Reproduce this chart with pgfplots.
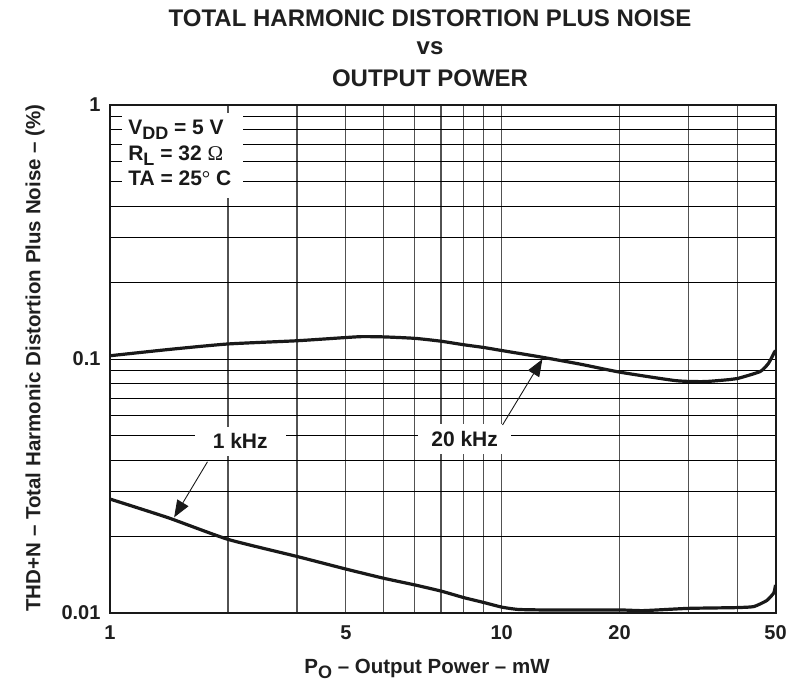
\documentclass[border=0pt]{standalone}
\usepackage{fontspec}
\setmainfont{Liberation Sans}
\newfontfamily\serifsym{Liberation Serif}
\usepackage{pgfplots}
\pgfplotsset{compat=1.18}
\usetikzlibrary{arrows.meta}
\newcommand{\sub}[1]{\raisebox{-5pt}{\fontsize{18}{18}\selectfont #1}}
\begin{document}
\begin{tikzpicture}[x=1pt,y=1pt]
\useasboundingbox (0,0) rectangle (791,683);
\begin{axis}[
  at={(110pt,70pt)}, anchor=south west,
  scale only axis, width=665.5pt, height=508pt,
  xmode=log, ymode=log,
  xmin=1, xmax=50, ymin=0.01, ymax=1,
  xtick={1,4,10,20,50}, xticklabels={1,5,10,20,50},
  ytick={0.01,0.1,1}, yticklabels={0.01,0.1,1},
  minor xtick={2,3,5,6,7,8,9,30,40},
  minor ytick={0.02,0.03,0.04,0.05,0.06,0.07,0.08,0.09,0.2,0.3,0.4,0.5,0.6,0.7,0.8,0.9},
  grid=both,
  major x grid style={draw=black!68, line width=1.3pt},
  minor x grid style={draw=black!68, line width=1.3pt},
  major y grid style={draw=black, line width=1pt},
  minor y grid style={draw=black, line width=1pt},
  major tick length=0pt, minor tick length=0pt,
  axis line style={line width=2pt, draw=black!90},
  ticklabel style={font=\fontsize{20}{24}\selectfont\bfseries, text=black!88},
  xticklabel style={yshift=-9pt},
  yticklabel style={xshift=-6pt},
  /pgf/number format/assume math mode=true,
]
% 20 kHz
\addplot[black!90, line width=3.2pt, smooth, tension=0.35] coordinates {
(1,0.103) (1.41,0.109) (2,0.1146) (3,0.118) (4,0.1215) (4.4,0.1225) (5,0.1222) (6,0.1206)
(7,0.1175) (8,0.1138) (9,0.111) (10,0.108) (12.6,0.1018) (15.9,0.0954) (20,0.0888)
(27.8,0.0822) (32.9,0.0815) (38.2,0.0830) (40,0.0838) (45.7,0.0893) (48,0.0963) (49.7,0.1065) (50,0.108)
};
% 1 kHz
\addplot[black!90, line width=3.2pt, smooth, tension=0.3] coordinates {
(1,0.0281) (1.41,0.0237) (2,0.0195) (3,0.0167) (4,0.0149) (5,0.0137) (6,0.0129)
(7,0.0122) (8,0.0115) (9,0.0110) (10,0.01055) (11,0.01033) (13,0.01028) (20,0.01028)
(23,0.01022) (30,0.01043) (39.5,0.0105) (44,0.0106) (47.5,0.0112) (49.5,0.0120) (50,0.0129)
};
% legend block
\fill[white] (axis cs:1.073,0.930) rectangle (axis cs:2.19,0.430);
\node[anchor=base west, inner sep=0pt, font=\fontsize{21}{26}\selectfont\bfseries, text=black!90] at (axis cs:1.112,0.762) {V\sub{DD} = 5 V};
\node[anchor=base west, inner sep=0pt, font=\fontsize{21}{26}\selectfont\bfseries, text=black!90] at (axis cs:1.112,0.602) {R\sub{L} = 32 {\mdseries\serifsym Ω}};
\node[anchor=base west, inner sep=0pt, font=\fontsize{21}{26}\selectfont\bfseries, text=black!90] at (axis cs:1.112,0.480) {TA = 25{\mdseries\serifsym °} C};
% labels
\node[fill=white, inner xsep=18pt, inner ysep=7pt, font=\fontsize{21}{26}\selectfont\bfseries, text=black!90] at (axis cs:2.15,0.0475) {1 kHz};
\node[fill=white, inner xsep=13pt, inner ysep=7pt, font=\fontsize{21}{26}\selectfont\bfseries, text=black!90] at (axis cs:8.04,0.0484) {20 kHz};
\draw[black!90, line width=0.9pt, -{Triangle[length=17pt,width=13pt]}] (axis cs:1.774,0.0394) -- (axis cs:1.458,0.0238);
\draw[black!90, line width=0.9pt, -{Triangle[length=17pt,width=13pt]}] (axis cs:10.05,0.055) -- (axis cs:12.7,0.0998);
\end{axis}
% title
\node[font=\fontsize{24}{30}\selectfont\bfseries, text=black!88] at (430,665) {TOTAL HARMONIC DISTORTION PLUS NOISE};
\node[font=\fontsize{24}{30}\selectfont\bfseries, text=black!88] at (430,635) {vs};
\node[font=\fontsize{24}{30}\selectfont\bfseries, text=black!88] at (430,605) {OUTPUT POWER};
% axis labels
\node[font=\fontsize{20.5}{24}\selectfont\bfseries, text=black!88] at (427,14) {P\sub{O} -- Output Power -- mW};
\node[font=\fontsize{20.5}{24}\selectfont\bfseries, text=black!88, rotate=90] at (35,325) {THD+N -- Total Harmonic Distortion Plus Noise -- (\%)};
\end{tikzpicture}
\end{document}
